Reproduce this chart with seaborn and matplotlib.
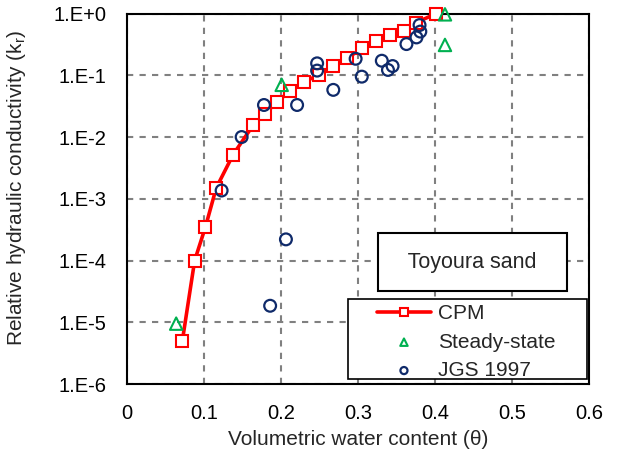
import matplotlib
matplotlib.use("Agg")
import matplotlib.pyplot as plt
from matplotlib.patches import Rectangle
from matplotlib.ticker import FuncFormatter, LogLocator, MultipleLocator
import numpy as np
import seaborn as sns

# ===== DATA =====
cpm_theta = [0.072, 0.088, 0.102, 0.116, 0.138, 0.164, 0.179, 0.195, 0.212, 0.230,
             0.249, 0.268, 0.286, 0.305, 0.323, 0.342, 0.360, 0.375, 0.402]
cpm_kr = [5.0e-6, 1.0e-4, 3.5e-4, 1.5e-3, 5.2e-3, 1.56e-2, 2.36e-2, 3.7e-2, 5.6e-2, 7.8e-2,
          0.101, 0.141, 0.188, 0.273, 0.363, 0.449, 0.526, 0.71, 1.0]

steady_theta = [0.064, 0.201, 0.413, 0.413]
steady_kr = [9.5e-6, 0.07, 0.97, 0.31]

jgs_theta = [0.186, 0.2065, 0.123, 0.149, 0.178, 0.221, 0.247, 0.247, 0.268, 0.297,
             0.305, 0.331, 0.339, 0.345, 0.363, 0.376, 0.381, 0.380]
jgs_kr = [1.85e-5, 2.2e-4, 1.36e-3, 0.010, 0.033, 0.033, 0.156, 0.119, 0.058, 0.185,
          0.095, 0.172, 0.122, 0.141, 0.32, 0.41, 0.51, 0.65]

# ===== STYLE =====
sns.set_style("white")
plt.rcParams['font.family'] = ['Liberation Sans', 'DejaVu Sans']
plt.rcParams['mathtext.fontset'] = 'custom'
plt.rcParams['mathtext.rm'] = 'Liberation Sans'

red = '#ff0000'
green = '#00b050'
navy = '#0f2a6a'

fig, ax = plt.subplots(figsize=(6.19, 4.63), dpi=100)
fig.subplots_adjust(left=0.205, right=0.9515, bottom=0.1706, top=0.9708)

# ===== PLOT =====
sns.lineplot(x=cpm_theta, y=cpm_kr, ax=ax, color=red, linewidth=2.6,
             marker='s', markersize=9, markerfacecolor='white',
             markeredgecolor=red, markeredgewidth=1.5,
             sort=False, estimator=None, label='CPM', zorder=3, clip_on=False)
sns.scatterplot(x=steady_theta, y=steady_kr, ax=ax, marker='^', s=80,
                facecolor='none', edgecolor=green, linewidth=1.5,
                label='Steady-state', zorder=4, clip_on=False)
sns.scatterplot(x=jgs_theta, y=jgs_kr, ax=ax, marker='o', s=72,
                facecolor='none', edgecolor=navy, linewidth=1.6,
                label='JGS 1997', zorder=5, clip_on=False)

# ===== AXES =====
ax.set_yscale('log')
ax.set_xlim(0, 0.6)
ax.set_ylim(1e-6, 1)
ax.xaxis.set_major_locator(MultipleLocator(0.1))
ax.xaxis.set_minor_locator(MultipleLocator(0.02))
ax.yaxis.set_major_locator(LogLocator(base=10, numticks=10))
ax.yaxis.set_minor_locator(LogLocator(base=10, subs=np.arange(2, 10), numticks=100))
ax.xaxis.set_major_formatter(FuncFormatter(lambda v, p: f"{v:g}"))
ax.yaxis.set_major_formatter(FuncFormatter(lambda v, p: f"1.E{int(round(np.log10(v))):+d}"))

ax.tick_params(which='major', direction='inout', length=9, width=1.5,
               labelsize=14.5, colors='black')
ax.tick_params(axis='y', which='major', pad=10)
ax.tick_params(axis='x', which='major', pad=10)
ax.tick_params(which='minor', direction='in', length=4, width=1, colors='black')

ax.grid(True, which='major', color='#808080', linestyle=(0, (3, 3)), linewidth=1.5)
ax.set_axisbelow(True)
for s in ax.spines.values():
    s.set_color('black')
    s.set_linewidth(1.5)

ax.set_xlabel('Volumetric water content (θ)', fontsize=15, labelpad=5)
ax.set_ylabel(r'Relative hydraulic conductivity (k$_\mathregular{r}$)', fontsize=15)
ax.yaxis.set_label_coords(-0.215, 0.53)

# ===== ANNOTATION & LEGEND =====
ax.text(0.747, 0.329, '  Toyoura sand  ', transform=ax.transAxes, fontsize=15.5,
        ha='center', va='center', zorder=6,
        bbox=dict(boxstyle='square,pad=0.85', facecolor='white', edgecolor='black', linewidth=1.5))

# legend frame drawn separately so the entries can sit inset from its left edge
ax.add_patch(Rectangle((0.478, 0.0135), 0.518, 0.2155, transform=ax.transAxes,
                       facecolor='white', edgecolor='black', linewidth=1.2, zorder=6))
leg = ax.legend(loc='center left', bbox_to_anchor=(0.541, 0.113), borderaxespad=0,
                fontsize=15, markerscale=0.6, frameon=False, handlelength=2.6,
                handletextpad=0.35, labelspacing=0.45, borderpad=0)
leg.set_zorder(7)

fig.savefig('out.png', dpi=100)
